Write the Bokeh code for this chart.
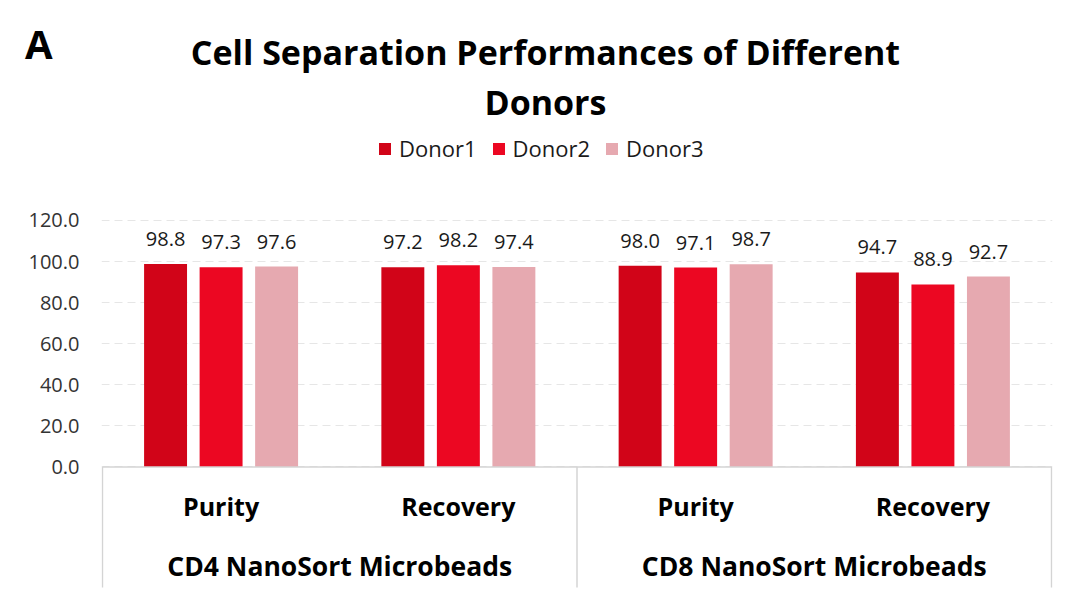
from bokeh.plotting import figure
from bokeh.models import (Range1d, FixedTicker, PrintfTickFormatter, Legend, LegendItem, Label,
                          ColumnDataSource, LinearAxis)
from bokeh.core.properties import value
from bokeh.embed import file_html
from bokeh.resources import INLINE

# ---- data ----
categories = ["Purity", "Recovery", "Purity", "Recovery"]
groups = ["CD4 NanoSort Microbeads", "CD8 NanoSort Microbeads"]
donors = ["Donor1", "Donor2", "Donor3"]
donor1 = [98.8, 97.2, 98.0, 94.7]
donor2 = [97.3, 98.2, 97.1, 88.9]
donor3 = [97.6, 97.4, 98.7, 92.7]
y_ticks = [0, 20, 40, 60, 80, 100, 120]
title_lines = ["Cell Separation Performances of Different", "Donors"]
panel_letter = "A"

colors = ["#D10418", "#EC0722", "#E6A9B0"]
series = [donor1, donor2, donor3]

FONT = "Open Sans"
Y_BOTTOM, Y_TOP = -61.1, 227.1
AXIS_DEPTH = -58.7

p = figure(width=1064, height=592, title=None,
           x_range=Range1d(-0.004, 4.004), y_range=Range1d(Y_BOTTOM, Y_TOP),
           output_backend="svg", toolbar_location=None,
           min_border_left=101, min_border_right=12, min_border_top=0, min_border_bottom=0)
p.outline_line_color = None
p.xaxis.visible = False
p.xgrid.visible = False

# y axis
yax = p.yaxis[0]
yax.ticker = FixedTicker(ticks=y_ticks)
yax.formatter = PrintfTickFormatter(format="%.1f")
yax.axis_line_color = None
yax.major_tick_line_color = None
yax.minor_tick_line_color = None
yax.major_tick_out = 0
yax.minor_tick_out = 0
yax.major_label_standoff = 22
yax.major_label_text_font = FONT
yax.major_label_text_font_size = "20px"
yax.major_label_text_color = "#333333"
p.ygrid.ticker = FixedTicker(ticks=y_ticks)
p.ygrid.grid_line_color = "#e6e6e6"
p.ygrid.grid_line_dash = "8 5"
p.ygrid.grid_line_width = 1

# panel letter, drawn as the single label of an outer left axis
letter_axis = LinearAxis(ticker=FixedTicker(ticks=[206]), major_label_overrides={206: panel_letter},
                         axis_line_color=None, major_tick_line_color=None, minor_tick_line_color=None,
                         major_tick_out=0, minor_tick_out=0, major_label_standoff=-27,
                         major_label_text_font=FONT, major_label_text_font_style="bold",
                         major_label_text_font_size="40px", major_label_text_color="#000000")
p.add_layout(letter_axis, "left")

n = len(categories)
centers = [i + 0.5 for i in range(n)]
offset = 0.234
bar_w = 0.181

renderers = []
for j, (vals, col) in enumerate(zip(series, colors)):
    xs = [c + (j - 1) * offset for c in centers]
    src = ColumnDataSource(dict(x=xs, top=vals, lab=["%.1f" % v for v in vals]))
    r = p.vbar(x="x", top="top", width=bar_w, bottom=0, source=src,
               fill_color=col, line_color=None)
    renderers.append(r)
    p.text(x="x", y="top", text="lab", source=src, text_align="center",
           text_baseline="alphabetic", y_offset=-25,
           text_font=value(FONT), text_font_size="20px", text_color="#1a1a1a")

# category axis lines (horizontal baseline and separators)
p.segment(x0=[0], y0=[0], x1=[n], y1=[0], line_color="#d4d4d4", line_width=1.5)
sep_x = [0, n // 2, n]
p.segment(x0=sep_x, y0=[0] * 3, x1=sep_x, y1=[AXIS_DEPTH] * 3, line_color="#d4d4d4", line_width=1.5)

# category labels
p.text(x=centers, y=[-19.2] * n, text=categories, text_align="center", text_baseline="alphabetic",
       text_font=value(FONT), text_font_style="bold", text_font_size="25px", text_color="#000000")
gcent = [1.0, 3.0]
p.text(x=gcent, y=[-48.0] * 2, text=groups, text_align="center", text_baseline="alphabetic",
       text_font=value(FONT), text_font_style="bold", text_font_size="26.5px", text_color="#000000")

# titles
title_y = [202.1, 177.6]
for t, ty in zip(title_lines, title_y):
    p.add_layout(Label(x=1.867, y=ty, text=t, text_align="center", text_baseline="alphabetic",
                       text_font=FONT, text_font_style="bold", text_font_size="34px",
                       text_color="#000000"))

legend = Legend(items=[LegendItem(label=d, renderers=[r]) for d, r in zip(donors, renderers)],
                orientation="horizontal", location=(276, 429),
                glyph_width=15, glyph_height=15, label_standoff=7, spacing=14,
                padding=0, margin=0, border_line_color=None, background_fill_alpha=0,
                label_text_font=FONT, label_text_font_size="22px", label_text_color="#1a1a1a")
p.add_layout(legend)

open("out.html", "w").write(file_html(p, INLINE))
